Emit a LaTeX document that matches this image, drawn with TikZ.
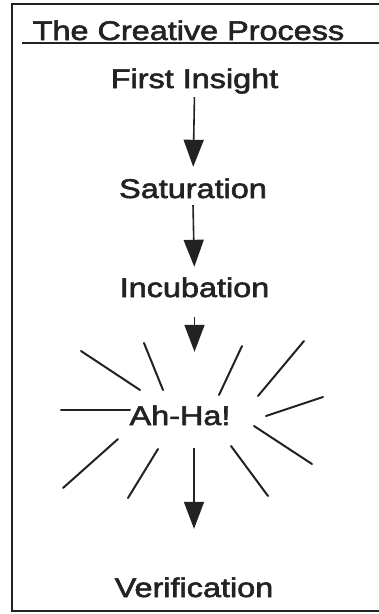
\documentclass[tikz,border=0pt]{standalone}
\usepackage{fontspec}
\setmainfont{Liberation Sans}
\newfontfamily\heavysans[FakeBold=2]{Liberation Sans}
\usetikzlibrary{arrows.meta}
\definecolor{ink}{RGB}{34,34,34}
\begin{document}
\begin{tikzpicture}[x=1pt,y=-1pt,
  lbl/.style={anchor=base, inner sep=0pt, text=ink, font=\heavysans\fontsize{27}{30}\selectfont, text height=20pt, text depth=6pt},
  arr/.style={draw=ink, line width=1.6pt, -{Triangle[length=27pt,width=20pt]}},
  ray/.style={draw=ink, line width=2pt, line cap=round},
  framestyle/.style={draw=ink, line width=1.6pt}]
\useasboundingbox (0,0) rectangle (379,614);
% frame (right side cut off by the page edge)
\draw[framestyle] (385,4) -- (12,4) -- (12,611) -- (385,611);
% title
\node[lbl] (title) at (188.5,40) {\scalebox{1.2}[1]{The Creative Process}};
\draw[draw=ink, line width=1.1pt] (22,43) -- (385,43);
% stages
\node[lbl] (fi)   at (194.5,88)  {\scalebox{1.2}[1]{First Insight}};
\node[lbl] (sat)  at (193,198)   {\scalebox{1.2}[1]{Saturation}};
\node[lbl] (inc)  at (194.5,297) {\scalebox{1.2}[1]{Incubation}};
\node[lbl] (aha)  at (180,425)   {\scalebox{1.2}[1]{Ah-Ha!}};
\node[lbl] (ver)  at (194,597)   {\scalebox{1.2}[1]{Verification}};
% arrows
\draw[arr, shorten <=3pt, shorten >=11pt] (fi.south) -- (sat.north);
\draw[arr, shorten <=1pt, shorten >=10pt] (sat.south) -- (inc.north);
\draw[arr, shorten <=14pt, shorten >=53pt] (inc.south) -- (inc.south |- aha.north);
\draw[arr, shorten <=17pt, shorten >=48pt] (ver.north |- aha.south) -- (ver.north);
% rays round Ah-Ha!
\draw[ray] (81,351) -- (140,390);
\draw[ray] (144,343) -- (163,390);
\draw[ray] (242,346) -- (219,395);
\draw[ray] (304,341) -- (258,396);
\draw[ray] (323,397) -- (266,416);
\draw[ray] (61,410) -- (130,410);
\draw[ray] (254,426) -- (312,464);
\draw[ray] (118,439) -- (63,488);
\draw[ray] (158,449) -- (128,498);
\draw[ray] (231,446) -- (268,496);
\end{tikzpicture}
\end{document}
